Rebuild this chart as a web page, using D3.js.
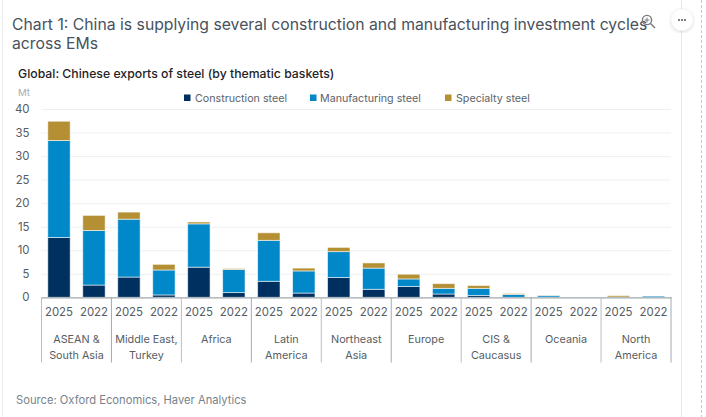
<!DOCTYPE html>
<html><head><meta charset="utf-8">
<script src="https://cdn.jsdelivr.net/npm/d3@7"></script>
<style>
html,body{margin:0;padding:0;background:#fff;overflow:hidden}
text{font-family:Inter,"Noto Sans",sans-serif}
</style></head><body>
<svg id="c" width="706" height="417"></svg>
<script>
const groups=["ASEAN & South Asia","Middle East, Turkey","Africa","Latin America","Northeast Asia","Europe","CIS & Caucasus","Oceania","North America"];
const groupLines=[["ASEAN &","South Asia"],["Middle East,","Turkey"],["Africa"],["Latin","America"],["Northeast","Asia"],["Europe"],["CIS &","Caucasus"],["Oceania"],["North","America"]];
const years=["2025","2022"];
const seriesNames=["Construction steel","Manufacturing steel","Specialty steel"];
const seriesColors=["#00305f","#0088c8","#b58f33"];
const yTicks=[0,5,10,15,20,25,30,35,40];
const construction=[12.7,2.6,4.3,0.5,6.4,1.0,3.4,0.9,4.2,1.7,2.3,0.7,0.4,0.0,0.05,0,0,0];
const manufacturing=[20.6,11.6,12.3,5.3,9.2,4.9,8.7,4.7,5.5,4.5,1.6,1.2,1.5,0.6,0.35,0,0.05,0.25];
const specialty=[4.1,3.2,1.5,1.2,0.4,0.2,1.6,0.6,0.9,1.1,1.0,1.0,0.6,0.2,0.05,0,0.3,0];

const svg=d3.select("#c");
const m={l:41.5,r:671,t:109,b:297.3};
const keys=groups.flatMap(g=>years.map(y=>g+"|"+y));
const rows=keys.map((k,i)=>({k,year:k.split("|")[1],a:construction[i],b:manufacturing[i],c:specialty[i]}));
const x=d3.scaleBand().domain(keys).range([m.l,m.r]).paddingInner(0.36).paddingOuter(0.18);
const gx=d3.scaleBand().domain(groups).range([m.l,m.r]);
const y=d3.scaleLinear().domain([0,40]).range([m.b,m.t]);

// page furniture
svg.append("line").attr("x1",2.5).attr("x2",2.5).attr("y1",0).attr("y2",417).attr("stroke","#ececec");
svg.append("line").attr("x1",681.5).attr("x2",681.5).attr("y1",0).attr("y2",417).attr("stroke","#e8e8e8");
svg.append("line").attr("x1",701.5).attr("x2",701.5).attr("y1",0).attr("y2",417).attr("stroke","#f7c948").attr("stroke-dasharray","3 2");

// titles
const title=svg.append("g").attr("fill","#47525e").attr("font-size",15.75);
title.append("text").attr("x",12).attr("y",29.5).text("Chart 1: China is supplying several construction and manufacturing investment cycles");
title.append("text").attr("x",12).attr("y",48.5).text("across EMs");
svg.append("text").attr("x",18).attr("y",78).attr("font-size",12.25).attr("font-weight",500).attr("fill","#1f2326").text("Global: Chinese exports of steel (by thematic baskets)");
svg.append("text").attr("x",18).attr("y",96).attr("font-size",9.6).attr("fill","#a4abb3").text("Mt");

// icons
const ic=svg.append("g").attr("fill","none").attr("stroke","#77797c").attr("stroke-width",1.4);
ic.append("circle").attr("cx",647).attr("cy",20).attr("r",4.6);
ic.append("line").attr("x1",650.5).attr("y1",23.5).attr("x2",655).attr("y2",28);
ic.append("path").attr("d","M644.6 20H649.4M647 17.6V22.4").attr("stroke-width",1);
svg.append("defs").append("filter").attr("id","sh").append("feDropShadow").attr("dx",0).attr("dy",1).attr("stdDeviation",2).attr("flood-opacity",.18);
svg.append("circle").attr("cx",682).attr("cy",20).attr("r",10.5).attr("fill","#fff").attr("filter","url(#sh)");
svg.selectAll(".dot").data([-3,0,3]).join("circle").attr("cx",d=>682+d).attr("cy",20).attr("r",1).attr("fill","#555");

// legend
const lx=[184,310,445], tx=[195,320,456];
seriesNames.forEach((s,i)=>{
  svg.append("rect").attr("x",lx[i]).attr("y",94.5).attr("width",6.5).attr("height",6.5).attr("fill",seriesColors[i]);
  svg.append("text").attr("x",tx[i]).attr("y",101.5).attr("font-size",10.7).attr("fill","#5b6268").text(s);
});

// y axis + grid
const ya=svg.append("g").attr("transform",`translate(${m.l},0)`)
  .call(d3.axisLeft(y).tickValues(yTicks).tickSize(-(m.r-m.l)).tickPadding(12));
ya.select(".domain").remove();
ya.selectAll(".tick line").attr("stroke","#eef0f2");
ya.selectAll(".tick text").attr("font-size",11.4).attr("fill","#565d63");

// bars
const stack=d3.stack().keys(["a","b","c"])(rows);
svg.append("g").selectAll("g").data(stack).join("g").attr("fill",(d,i)=>seriesColors[i])
  .selectAll("rect").data(d=>d.map(v=>({v,k:v.data.k})).filter(e=>e.v[1]>e.v[0])).join("rect")
  .attr("x",d=>x(d.k)).attr("width",x.bandwidth())
  .attr("y",d=>y(d.v[1])).attr("height",d=>y(d.v[0])-y(d.v[1]))
  .attr("stroke","#fff").attr("stroke-opacity",.6).attr("stroke-width",.9);

// x axis: years
const xa=svg.append("g").attr("transform",`translate(0,${m.b})`)
  .call(d3.axisBottom(x).tickSize(0).tickPadding(11).tickFormat(k=>k.split("|")[1]));
xa.select(".domain").attr("stroke","#a3abb2").attr("stroke-width",1.2);
xa.selectAll(".tick text").attr("font-size",11.4).attr("fill","#565d63");

// separators + group labels
const bounds=groups.map(g=>gx(g)).concat([m.r]);
svg.append("g").selectAll("line").data(bounds).join("line")
  .attr("x1",d=>d).attr("x2",d=>d).attr("y1",m.b).attr("y2",362.5)
  .attr("stroke",(d,i)=>i%2?"#a3abb2":"#b9bfc5");
const gl=svg.append("g").selectAll("text").data(groups).join("text")
  .attr("text-anchor","middle").attr("font-size",10.8).attr("fill","#565d63");
gl.each(function(g,i){
  d3.select(this).selectAll("tspan").data(groupLines[i]).join("tspan")
    .attr("x",gx(g)+gx.bandwidth()/2).attr("y",(d,j)=>343+j*16).text(d=>d);
});

svg.append("text").attr("x",16).attr("y",404).attr("font-size",11.2).attr("fill","#77828c").text("Source: Oxford Economics, Haver Analytics");
</script>
</body></html>
